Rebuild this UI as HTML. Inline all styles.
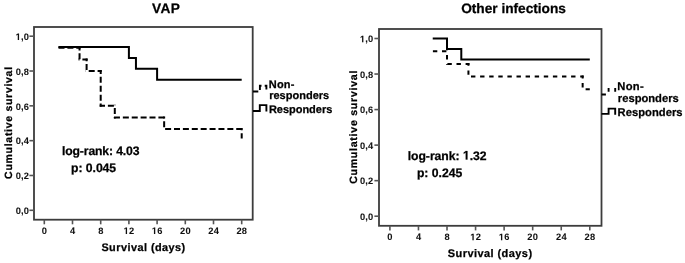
<!DOCTYPE html>
<html><head><meta charset="utf-8"><style>
html,body{margin:0;padding:0;background:#fff;width:685px;height:263px;overflow:hidden}
svg{display:block;will-change:transform}
text{stroke:#000;stroke-width:0.25px;text-rendering:geometricPrecision}
.h1{fill-opacity:0;stroke-opacity:0}
</style></head><body>
<svg width="685" height="263" viewBox="0 0 685 263" font-family="Liberation Sans, sans-serif">
<rect width="685" height="263" fill="#fff"/>
<rect x="34" y="27" width="218.7" height="192.7" fill="none" stroke="#3c3c3c" stroke-width="1.8"/>
<line x1="29.4" y1="210.30" x2="34" y2="210.30" stroke="#555" stroke-width="1.6"/>
<text x="29.0" y="214.05" letter-spacing="0.15" text-anchor="end" font-size="9.3" font-weight="bold" fill="#111" style="stroke-width:0.05px" class="w1" id="Ly0">0,0</text>
<line x1="29.4" y1="175.48" x2="34" y2="175.48" stroke="#555" stroke-width="1.6"/>
<text x="29.0" y="179.23" letter-spacing="0.15" text-anchor="end" font-size="9.3" font-weight="bold" fill="#111" style="stroke-width:0.05px" class="w1" id="Ly1">0,2</text>
<line x1="29.4" y1="140.66" x2="34" y2="140.66" stroke="#555" stroke-width="1.6"/>
<text x="29.0" y="144.41" letter-spacing="0.15" text-anchor="end" font-size="9.3" font-weight="bold" fill="#111" style="stroke-width:0.05px" class="w1" id="Ly2">0,4</text>
<line x1="29.4" y1="105.84" x2="34" y2="105.84" stroke="#555" stroke-width="1.6"/>
<text x="29.0" y="109.59" letter-spacing="0.15" text-anchor="end" font-size="9.3" font-weight="bold" fill="#111" style="stroke-width:0.05px" class="w1" id="Ly3">0,6</text>
<line x1="29.4" y1="71.02" x2="34" y2="71.02" stroke="#555" stroke-width="1.6"/>
<text x="29.0" y="74.77" letter-spacing="0.15" text-anchor="end" font-size="9.3" font-weight="bold" fill="#111" style="stroke-width:0.05px" class="w1" id="Ly4">0,8</text>
<line x1="29.4" y1="36.20" x2="34" y2="36.20" stroke="#555" stroke-width="1.6"/>
<text x="29.0" y="39.95" letter-spacing="0.15" text-anchor="end" font-size="9.3" font-weight="bold" fill="#111" style="stroke-width:0.05px" class="w1" id="Ly5"><tspan class="h1">1</tspan>,0</text>
<line x1="44.30" y1="219.7" x2="44.30" y2="224.30" stroke="#555" stroke-width="1.6"/>
<text x="44.47" y="233.90" letter-spacing="0.3" text-anchor="middle" font-size="9.3" font-weight="bold" fill="#111" style="stroke-width:0.05px" class="w1" id="Lx0">0</text>
<line x1="72.50" y1="219.7" x2="72.50" y2="224.30" stroke="#555" stroke-width="1.6"/>
<text x="72.67" y="233.90" letter-spacing="0.3" text-anchor="middle" font-size="9.3" font-weight="bold" fill="#111" style="stroke-width:0.05px" class="w1" id="Lx1">4</text>
<line x1="100.70" y1="219.7" x2="100.70" y2="224.30" stroke="#555" stroke-width="1.6"/>
<text x="100.87" y="233.90" letter-spacing="0.3" text-anchor="middle" font-size="9.3" font-weight="bold" fill="#111" style="stroke-width:0.05px" class="w1" id="Lx2">8</text>
<line x1="128.90" y1="219.7" x2="128.90" y2="224.30" stroke="#555" stroke-width="1.6"/>
<text x="129.07" y="233.90" letter-spacing="0.3" text-anchor="middle" font-size="9.3" font-weight="bold" fill="#111" style="stroke-width:0.05px" class="w1" id="Lx3"><tspan class="h1">1</tspan>2</text>
<line x1="157.10" y1="219.7" x2="157.10" y2="224.30" stroke="#555" stroke-width="1.6"/>
<text x="157.27" y="233.90" letter-spacing="0.3" text-anchor="middle" font-size="9.3" font-weight="bold" fill="#111" style="stroke-width:0.05px" class="w1" id="Lx4"><tspan class="h1">1</tspan>6</text>
<line x1="185.30" y1="219.7" x2="185.30" y2="224.30" stroke="#555" stroke-width="1.6"/>
<text x="185.47" y="233.90" letter-spacing="0.3" text-anchor="middle" font-size="9.3" font-weight="bold" fill="#111" style="stroke-width:0.05px" class="w1" id="Lx5">20</text>
<line x1="213.50" y1="219.7" x2="213.50" y2="224.30" stroke="#555" stroke-width="1.6"/>
<text x="213.67" y="233.90" letter-spacing="0.3" text-anchor="middle" font-size="9.3" font-weight="bold" fill="#111" style="stroke-width:0.05px" class="w1" id="Lx6">24</text>
<line x1="241.70" y1="219.7" x2="241.70" y2="224.30" stroke="#555" stroke-width="1.6"/>
<text x="241.87" y="233.90" letter-spacing="0.3" text-anchor="middle" font-size="9.3" font-weight="bold" fill="#111" style="stroke-width:0.05px" class="w1" id="Lx7">28</text>
<rect x="379" y="29" width="222.5" height="196.8" fill="none" stroke="#3c3c3c" stroke-width="1.8"/>
<line x1="374.4" y1="216.20" x2="379" y2="216.20" stroke="#555" stroke-width="1.6"/>
<text x="373.3" y="219.95" letter-spacing="0.15" text-anchor="end" font-size="9.3" font-weight="bold" fill="#111" style="stroke-width:0.05px" class="w1" id="Ry0">0,0</text>
<line x1="374.4" y1="180.66" x2="379" y2="180.66" stroke="#555" stroke-width="1.6"/>
<text x="373.3" y="184.41" letter-spacing="0.15" text-anchor="end" font-size="9.3" font-weight="bold" fill="#111" style="stroke-width:0.05px" class="w1" id="Ry1">0,2</text>
<line x1="374.4" y1="145.12" x2="379" y2="145.12" stroke="#555" stroke-width="1.6"/>
<text x="373.3" y="148.87" letter-spacing="0.15" text-anchor="end" font-size="9.3" font-weight="bold" fill="#111" style="stroke-width:0.05px" class="w1" id="Ry2">0,4</text>
<line x1="374.4" y1="109.58" x2="379" y2="109.58" stroke="#555" stroke-width="1.6"/>
<text x="373.3" y="113.33" letter-spacing="0.15" text-anchor="end" font-size="9.3" font-weight="bold" fill="#111" style="stroke-width:0.05px" class="w1" id="Ry3">0,6</text>
<line x1="374.4" y1="74.04" x2="379" y2="74.04" stroke="#555" stroke-width="1.6"/>
<text x="373.3" y="77.79" letter-spacing="0.15" text-anchor="end" font-size="9.3" font-weight="bold" fill="#111" style="stroke-width:0.05px" class="w1" id="Ry4">0,8</text>
<line x1="374.4" y1="38.50" x2="379" y2="38.50" stroke="#555" stroke-width="1.6"/>
<text x="373.3" y="42.25" letter-spacing="0.15" text-anchor="end" font-size="9.3" font-weight="bold" fill="#111" style="stroke-width:0.05px" class="w1" id="Ry5"><tspan class="h1">1</tspan>,0</text>
<line x1="389.90" y1="225.8" x2="389.90" y2="230.40" stroke="#555" stroke-width="1.6"/>
<text x="390.07" y="240.20" letter-spacing="0.3" text-anchor="middle" font-size="9.3" font-weight="bold" fill="#111" style="stroke-width:0.05px" class="w1" id="Rx0">0</text>
<line x1="418.46" y1="225.8" x2="418.46" y2="230.40" stroke="#555" stroke-width="1.6"/>
<text x="418.63" y="240.20" letter-spacing="0.3" text-anchor="middle" font-size="9.3" font-weight="bold" fill="#111" style="stroke-width:0.05px" class="w1" id="Rx1">4</text>
<line x1="447.01" y1="225.8" x2="447.01" y2="230.40" stroke="#555" stroke-width="1.6"/>
<text x="447.18" y="240.20" letter-spacing="0.3" text-anchor="middle" font-size="9.3" font-weight="bold" fill="#111" style="stroke-width:0.05px" class="w1" id="Rx2">8</text>
<line x1="475.57" y1="225.8" x2="475.57" y2="230.40" stroke="#555" stroke-width="1.6"/>
<text x="475.74" y="240.20" letter-spacing="0.3" text-anchor="middle" font-size="9.3" font-weight="bold" fill="#111" style="stroke-width:0.05px" class="w1" id="Rx3"><tspan class="h1">1</tspan>2</text>
<line x1="504.12" y1="225.8" x2="504.12" y2="230.40" stroke="#555" stroke-width="1.6"/>
<text x="504.29" y="240.20" letter-spacing="0.3" text-anchor="middle" font-size="9.3" font-weight="bold" fill="#111" style="stroke-width:0.05px" class="w1" id="Rx4"><tspan class="h1">1</tspan>6</text>
<line x1="532.68" y1="225.8" x2="532.68" y2="230.40" stroke="#555" stroke-width="1.6"/>
<text x="532.85" y="240.20" letter-spacing="0.3" text-anchor="middle" font-size="9.3" font-weight="bold" fill="#111" style="stroke-width:0.05px" class="w1" id="Rx5">20</text>
<line x1="561.24" y1="225.8" x2="561.24" y2="230.40" stroke="#555" stroke-width="1.6"/>
<text x="561.41" y="240.20" letter-spacing="0.3" text-anchor="middle" font-size="9.3" font-weight="bold" fill="#111" style="stroke-width:0.05px" class="w1" id="Rx6">24</text>
<line x1="589.79" y1="225.8" x2="589.79" y2="230.40" stroke="#555" stroke-width="1.6"/>
<text x="589.96" y="240.20" letter-spacing="0.3" text-anchor="middle" font-size="9.3" font-weight="bold" fill="#111" style="stroke-width:0.05px" class="w1" id="Rx7">28</text>
<path d="M58.40,47.08H128.90V57.96H135.95V68.84H157.10V79.73H241.70" fill="none" stroke="#000" stroke-width="2.0"  stroke-dashoffset="0"/>
<path d="M432.73,38.50H447.01V48.95H461.29V59.41H589.79" fill="none" stroke="#000" stroke-width="2.0"  stroke-dashoffset="0"/>
<g stroke="#000" stroke-width="2.0" fill="none"><line x1="58.40" y1="47.81" x2="80.55" y2="47.81" stroke-dasharray="6.0,2.89" stroke-dashoffset="8.77"/><line x1="79.55" y1="46.81" x2="79.55" y2="60.41" stroke-dasharray="6.0,2.89" stroke-dashoffset="2.40"/><line x1="78.55" y1="59.41" x2="87.60" y2="59.41" stroke-dasharray="6.0,2.89" stroke-dashoffset="5.04"/><line x1="86.60" y1="58.41" x2="86.60" y2="72.02" stroke-dasharray="6.0,2.89" stroke-dashoffset="3.20"/><line x1="85.60" y1="71.02" x2="101.70" y2="71.02" stroke-dasharray="6.0,2.89" stroke-dashoffset="5.79"/><line x1="100.70" y1="70.02" x2="100.70" y2="106.84" stroke-dasharray="6.0,2.89" stroke-dashoffset="2.06"/><line x1="99.70" y1="105.84" x2="115.80" y2="105.84" stroke-dasharray="6.0,2.89" stroke-dashoffset="0.69"/><line x1="114.80" y1="104.84" x2="114.80" y2="118.45" stroke-dasharray="6.0,2.89" stroke-dashoffset="5.63"/><line x1="113.80" y1="117.45" x2="165.15" y2="117.45" stroke-dasharray="6.0,2.89" stroke-dashoffset="8.74"/><line x1="164.15" y1="116.45" x2="164.15" y2="130.05" stroke-dasharray="6.0,2.89" stroke-dashoffset="4.04"/><line x1="163.15" y1="129.05" x2="242.70" y2="129.05" stroke-dasharray="6.0,2.89" stroke-dashoffset="6.93"/><line x1="241.70" y1="128.05" x2="241.70" y2="138.57" stroke-dasharray="6.0,2.89" stroke-dashoffset="3.74"/></g>
<g stroke="#000" stroke-width="2.0" fill="none"><line x1="432.73" y1="51.19" x2="448.01" y2="51.19" stroke-dasharray="4.4,4.70" stroke-dashoffset="8.93"/><line x1="447.01" y1="50.19" x2="447.01" y2="64.89" stroke-dasharray="4.4,4.70" stroke-dashoffset="4.19"/><line x1="446.01" y1="63.89" x2="469.43" y2="63.89" stroke-dasharray="4.4,4.70" stroke-dashoffset="7.71"/><line x1="468.43" y1="62.89" x2="468.43" y2="77.58" stroke-dasharray="4.4,4.70" stroke-dashoffset="1.59"/><line x1="467.43" y1="76.58" x2="583.65" y2="76.58" stroke-dasharray="4.4,4.70" stroke-dashoffset="5.53"/><line x1="582.65" y1="75.58" x2="582.65" y2="90.27" stroke-dasharray="4.4,4.70" stroke-dashoffset="1.58"/><line x1="581.65" y1="89.27" x2="589.79" y2="89.27" stroke-dasharray="4.4,4.70" stroke-dashoffset="5.15"/></g>
<path d="M253,111H259.8V105.1H266.4V111.6" fill="none" stroke="#000" stroke-width="1.9"/>
<path d="M253,91.5H258.3M259.9,90V85.8H261.5M264.7,85.8H266.4V89.4" fill="none" stroke="#000" stroke-width="1.9"/>
<path d="M601.5,113.9H608.6V108.6H615.2V114.8" fill="none" stroke="#000" stroke-width="1.9"/>
<path d="M601.5,94.5H605.9M608.6,91.8V87.9M615.2,87.9V91.8" fill="none" stroke="#000" stroke-width="1.9"/>
<text id="t1" class="w1" x="151.90" y="13.00" font-size="13.7" font-weight="bold" textLength="28.10" lengthAdjust="spacing">VAP</text>
<text id="t2" class="w1" x="461.20" y="13.20" font-size="13.7" font-weight="bold" textLength="104.72" lengthAdjust="spacing">Other infections</text>
<text id="t3" transform="translate(12.30,178.89) rotate(-90)" x="0" y="0" font-size="10.5" font-weight="bold" textLength="111.97" lengthAdjust="spacing">Cumulative survival</text>
<text id="t4" transform="translate(357.20,183.87) rotate(-90)" x="0" y="0" font-size="10.6" font-weight="bold" textLength="113.27" lengthAdjust="spacing">Cumulative survival</text>
<text id="t5" class="w1" x="101.38" y="250.80" font-size="10.9" font-weight="bold" textLength="83.87" lengthAdjust="spacing">Survival (days)</text>
<text id="t6" class="w1" x="447.76" y="256.70" font-size="11.0" font-weight="bold" textLength="84.33" lengthAdjust="spacing">Survival (days)</text>
<text id="t7" class="w1" x="62.01" y="154.80" font-size="12.2" font-weight="bold" textLength="77.43" lengthAdjust="spacing">log-rank: 4.03</text>
<text id="t8" class="w1" x="71.08" y="172.20" font-size="12.2" font-weight="bold" textLength="45.05" lengthAdjust="spacing">p: 0.045</text>
<text id="t9" class="w1" x="407.68" y="159.50" font-size="12.2" font-weight="bold" textLength="78.86" lengthAdjust="spacing">log-rank: <tspan class="h1">1</tspan>.32</text>
<text id="t10" class="w1" x="416.91" y="177.20" font-size="12.2" font-weight="bold" textLength="45.36" lengthAdjust="spacing">p: 0.245</text>
<text id="t11" class="w1" x="268.86" y="87.95" font-size="11.0" font-weight="bold" textLength="25.45" lengthAdjust="spacing">Non-</text>
<text id="t12" class="w1" x="269.18" y="98.60" font-size="11.0" font-weight="bold" textLength="60.02" lengthAdjust="spacing">responders</text>
<text id="t13" class="w1" x="268.93" y="113.00" font-size="11.0" font-weight="bold" textLength="63.33" lengthAdjust="spacing">Responders</text>
<text id="t14" class="w1" x="617.34" y="90.10" font-size="11.2" font-weight="bold" textLength="26.27" lengthAdjust="spacing">Non-</text>
<text id="t15" class="w1" x="617.85" y="101.50" font-size="11.2" font-weight="bold" textLength="60.89" lengthAdjust="spacing">responders</text>
<text id="t16" class="w1" x="617.57" y="115.80" font-size="11.2" font-weight="bold" textLength="64.96" lengthAdjust="spacing">Responders</text>
<path d="M478,0L759,0L759,1409L493,1409L140,1180L140,959L478,1170Z" transform="translate(15.61,39.95) scale(0.004541,-0.004541)" fill="#111" stroke="#000" stroke-width="11.0"/>
<path d="M478,0L759,0L759,1409L493,1409L140,1180L140,959L478,1170Z" transform="translate(123.59,233.90) scale(0.004541,-0.004541)" fill="#111" stroke="#000" stroke-width="11.0"/>
<path d="M478,0L759,0L759,1409L493,1409L140,1180L140,959L478,1170Z" transform="translate(151.79,233.90) scale(0.004541,-0.004541)" fill="#111" stroke="#000" stroke-width="11.0"/>
<path d="M478,0L759,0L759,1409L493,1409L140,1180L140,959L478,1170Z" transform="translate(359.91,42.25) scale(0.004541,-0.004541)" fill="#111" stroke="#000" stroke-width="11.0"/>
<path d="M478,0L759,0L759,1409L493,1409L140,1180L140,959L478,1170Z" transform="translate(470.26,240.20) scale(0.004541,-0.004541)" fill="#111" stroke="#000" stroke-width="11.0"/>
<path d="M478,0L759,0L759,1409L493,1409L140,1180L140,959L478,1170Z" transform="translate(498.81,240.20) scale(0.004541,-0.004541)" fill="#111" stroke="#000" stroke-width="11.0"/>
<path d="M478,0L759,0L759,1409L493,1409L140,1180L140,959L478,1170Z" transform="translate(462.91,159.50) scale(0.005957,-0.005957)" fill="#000" stroke="#000" stroke-width="42.0"/>
</svg>
</body></html>
